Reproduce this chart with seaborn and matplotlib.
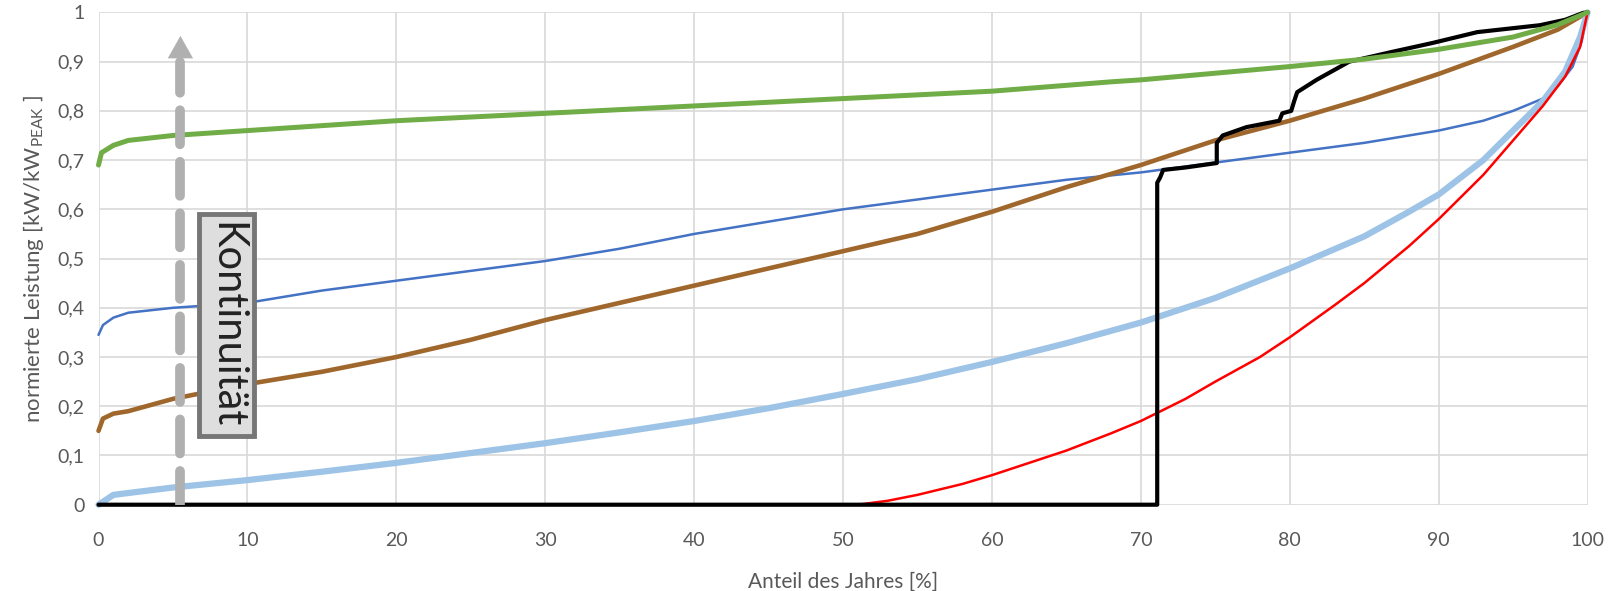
import numpy as np
import pandas as pd
import matplotlib.pyplot as plt
import seaborn as sns

# values (x: share of year in %, y: normalised power)
green_x = [0, 0.2, 1, 2, 5, 10, 20, 30, 40, 50, 60, 68, 70, 80, 85, 90, 95, 98, 100]
green_y = [0.69, 0.715, 0.73, 0.74, 0.75, 0.76, 0.78, 0.795, 0.81, 0.825, 0.84, 0.859, 0.863, 0.89, 0.905, 0.925, 0.95, 0.975, 1.0]

blue_x = [0, 0.3, 1, 2, 5, 10, 15, 20, 25, 30, 35, 40, 45, 50, 55, 60, 65, 70, 75, 80, 85, 90, 93, 95, 97, 98, 99, 99.6, 100]
blue_y = [0.345, 0.365, 0.38, 0.39, 0.40, 0.41, 0.435, 0.455, 0.475, 0.495, 0.52, 0.55, 0.575, 0.60, 0.62, 0.64, 0.66, 0.675, 0.695, 0.715, 0.735, 0.76, 0.78, 0.80, 0.825, 0.85, 0.89, 0.94, 1.0]

brown_x = [0, 0.3, 1, 2, 5, 10, 15, 20, 25, 30, 35, 40, 45, 50, 55, 60, 65, 70, 75, 80, 85, 90, 95, 98, 100]
brown_y = [0.15, 0.175, 0.185, 0.19, 0.215, 0.245, 0.27, 0.30, 0.335, 0.375, 0.41, 0.445, 0.48, 0.515, 0.55, 0.595, 0.645, 0.69, 0.74, 0.78, 0.825, 0.875, 0.93, 0.965, 1.0]

light_x = [0, 1, 5, 10, 15, 20, 25, 30, 35, 40, 45, 50, 55, 60, 65, 70, 75, 80, 85, 88, 90, 93, 95, 97, 98.5, 99.5, 100]
light_y = [0.0, 0.02, 0.035, 0.05, 0.067, 0.085, 0.105, 0.125, 0.147, 0.17, 0.196, 0.225, 0.255, 0.29, 0.328, 0.37, 0.42, 0.48, 0.545, 0.595, 0.63, 0.70, 0.76, 0.82, 0.88, 0.95, 1.0]

red_x = [51, 53, 55, 58, 60, 63, 65, 68, 70, 73, 75, 78, 80, 83, 85, 88, 90, 93, 95, 97, 98.5, 99.5, 100]
red_y = [0.0, 0.008, 0.02, 0.042, 0.06, 0.09, 0.11, 0.145, 0.17, 0.215, 0.25, 0.3, 0.34, 0.405, 0.45, 0.525, 0.58, 0.67, 0.74, 0.81, 0.87, 0.93, 1.0]

black_x = [0, 71.1, 71.1, 71.3, 71.5, 73, 75.1, 75.1, 75.5, 77.1, 79.3, 79.5, 80.1, 80.3, 80.5, 81.8, 84.0, 86.9, 89.6, 92.6, 96.8, 98.5, 99.7, 100]
black_y = [0.0, 0.0, 0.654, 0.665, 0.68, 0.685, 0.694, 0.735, 0.75, 0.767, 0.78, 0.795, 0.80, 0.82, 0.838, 0.863, 0.90, 0.92, 0.938, 0.96, 0.974, 0.985, 0.999, 1.0]

x_ticks = list(range(0, 101, 10))
y_ticks = [0, 0.1, 0.2, 0.3, 0.4, 0.5, 0.6, 0.7, 0.8, 0.9, 1.0]

sns.set_style("whitegrid", {"grid.color": "#d9d9d9"})
plt.rcParams['font.family'] = ['Lato', 'DejaVu Sans']

fig, ax = plt.subplots(figsize=(16.15, 5.91), dpi=100)
fig.subplots_adjust(left=0.061, right=0.983, top=0.979, bottom=0.146)

series = [
    (blue_x, blue_y, '#4472c4', 1.8),
    (brown_x, brown_y, '#a0672d', 3.3),
    (light_x, light_y, '#9dc3e6', 4.5),
    (red_x, red_y, '#ff0000', 1.8),
    (black_x, black_y, '#000000', 3.0),
    (green_x, green_y, '#70ad47', 3.6),
]
for xs, ys, col, lw in series:
    df = pd.DataFrame({'x': xs, 'y': ys})
    sns.lineplot(data=df, x='x', y='y', color=col, linewidth=lw, sort=False,
                 estimator=None, ax=ax, clip_on=False)

# dashed arrow
ax.plot([5.5, 5.5], [0.0, 0.9], color='#b0b0b0', linewidth=7, linestyle=(0, (3.5, 1.8)),
        dash_capstyle='round', zorder=5)
ax.annotate('', xy=(5.5, 0.958), xytext=(5.5, 0.9),
            arrowprops=dict(arrowstyle='-|>,head_width=0.9,head_length=1.6',
                            color='#b0b0b0', lw=0.1), zorder=5)
ax.text(8.6, 0.365, 'Kontinuität', rotation=-90, fontsize=30, color='#222222',
        ha='center', va='center', zorder=6,
        bbox=dict(boxstyle='square,pad=0.2', facecolor='#dedede', edgecolor='#767676', linewidth=3.5))

ax.set_xlim(0, 100)
ax.set_ylim(0, 1)
ax.set_xticks(x_ticks)
ax.set_yticks(y_ticks)
ax.set_yticklabels([('%g' % v).replace('.', ',') for v in y_ticks])
ax.tick_params(colors='#595959', labelsize=14, length=0, pad=10)
ax.tick_params(axis='x', pad=20)
ax.set_xlabel('Anteil des Jahres [%]', fontsize=15, color='#595959', labelpad=16)
ax.set_ylabel('normierte Leistung [kW/kW$_{\\mathregular{PEAK}}$ ]', fontsize=16, color='#595959', labelpad=8)
for s in ax.spines.values():
    s.set_visible(False)
ax.grid(True, color='#d9d9d9', linewidth=1.2)

plt.savefig('out.png', dpi=100)
